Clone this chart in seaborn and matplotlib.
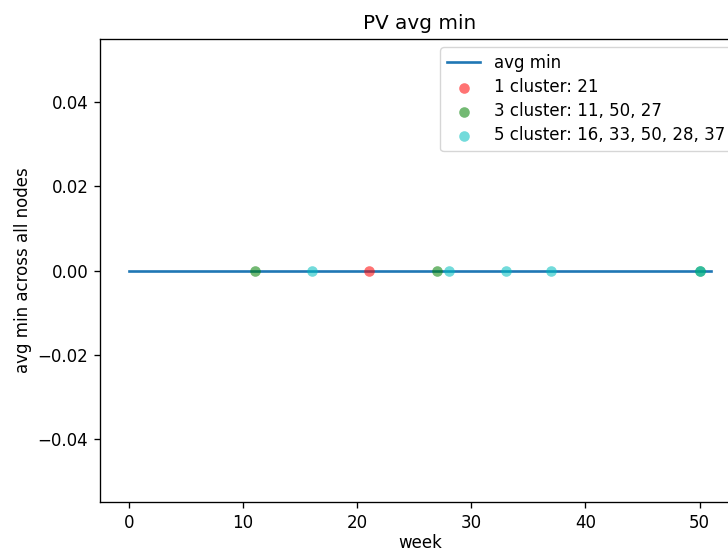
import matplotlib
matplotlib.use("Agg")
import matplotlib.pyplot as plt
import seaborn as sns

weeks = list(range(52))
avg_min = [0.0] * 52

c1_weeks = [21]
c3_weeks = [11, 50, 27]
c5_weeks = [16, 33, 50, 28, 37]
c1_vals = [0.0]
c3_vals = [0.0, 0.0, 0.0]
c5_vals = [0.0, 0.0, 0.0, 0.0, 0.0]

S = 1.2
plt.rcParams.update({
    "font.size": 10 * S,
    "axes.titlesize": 12 * S,
    "axes.labelsize": 10 * S,
    "xtick.labelsize": 10 * S,
    "ytick.labelsize": 10 * S,
    "legend.fontsize": 10 * S,
    "axes.linewidth": 0.8 * S,
    "xtick.major.width": 0.8 * S,
    "ytick.major.width": 0.8 * S,
    "xtick.major.size": 3.5 * S,
    "ytick.major.size": 3.5 * S,
    "xtick.major.pad": 3.5 * S,
    "ytick.major.pad": 3.5 * S,
})

fig = plt.figure(figsize=(7.28, 5.53), dpi=100)
ax = fig.add_axes([100 / 728, (553 - 502) / 553, 640 / 728, 463 / 553])

ms = (6 * 1.27) ** 2
sns.lineplot(x=weeks, y=avg_min, ax=ax, color="tab:blue", linewidth=1.5 * 1.27, label="avg min")
sns.scatterplot(x=c1_weeks, y=c1_vals, ax=ax, color="r", alpha=0.55, s=ms, linewidth=0, label="1 cluster: 21", zorder=3)
sns.scatterplot(x=c3_weeks, y=c3_vals, ax=ax, color="g", alpha=0.55, s=ms, linewidth=0, label="3 cluster: 11, 50, 27", zorder=3)
sns.scatterplot(x=c5_weeks, y=c5_vals, ax=ax, color="c", alpha=0.55, s=ms, linewidth=0, label="5 cluster: 16, 33, 50, 28, 37", zorder=3)

ax.set_xlim(-2.55, 53.55)
ax.set_ylim(-0.055, 0.055)
ax.set_yticks([-0.04, -0.02, 0.0, 0.02, 0.04])
ax.set_title("PV avg min", pad=6 * S)
ax.set_xlabel("week", labelpad=1.5)
ax.set_ylabel("avg min across all nodes")
ax.legend(loc="upper right", labelspacing=0.37)

fig.savefig("out.png", dpi=100)
